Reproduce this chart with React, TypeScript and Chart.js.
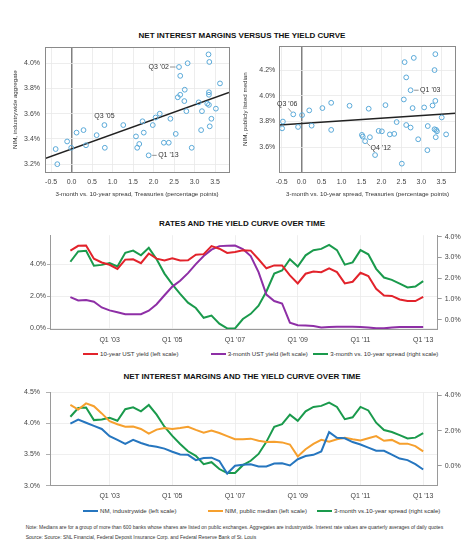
import React, { useEffect, useRef } from "react";
import { Chart, registerables } from "chart.js";

Chart.register(...registerables);

const FONT = "'Liberation Sans', Arial, Helvetica, sans-serif";

// ---------- Scatter data (spread in pct points, NIM in %) ----------
const industrySpread = [-0.39, -0.35, -0.11, -0.01, 0.12, 0.29, 0.35, 0.61, 0.8, 0.81, 1.26, 1.57, 1.6, 1.65, 1.73, 1.76, 1.88, 1.98, 2.05, 2.15, 2.25, 2.37, 2.41, 2.54, 2.59, 2.62, 2.65, 2.65, 2.75, 2.76, 2.8, 2.83, 2.93, 3.1, 3.16, 3.18, 3.31, 3.34, 3.35, 3.35, 3.35, 3.36, 3.37, 3.41, 3.52, 3.62];
const industryNim = [3.32, 3.2, 3.38, 3.33, 3.45, 3.47, 3.35, 3.43, 3.51, 3.33, 3.51, 3.42, 3.33, 3.36, 3.54, 3.45, 3.27, 3.51, 3.57, 3.6, 3.37, 3.37, 3.56, 3.44, 3.73, 3.97, 3.75, 3.9, 3.7, 3.79, 3.62, 4.0, 3.33, 3.69, 3.47, 3.62, 3.68, 4.07, 3.77, 3.75, 3.67, 4.01, 3.5, 3.56, 3.64, 3.84];
const industryTrend = { intercept: 3.32, slope: 0.117 };

const publicSpread = [-0.49, -0.47, -0.21, -0.09, 0.01, 0.19, 0.25, 0.52, 0.74, 0.74, 1.2, 1.51, 1.53, 1.59, 1.68, 1.71, 1.84, 1.93, 2.01, 2.1, 2.21, 2.32, 2.38, 2.51, 2.56, 2.58, 2.62, 2.62, 2.73, 2.73, 2.78, 2.81, 2.92, 3.07, 3.15, 3.16, 3.28, 3.33, 3.33, 3.35, 3.35, 3.36, 3.37, 3.39, 3.51, 3.62];
const publicNim = [3.747, 3.8, 3.856, 3.758, 3.85, 3.887, 3.768, 3.905, 3.946, 3.735, 3.923, 3.696, 3.683, 3.647, 3.9, 3.678, 3.539, 3.727, 3.724, 3.928, 3.7, 3.704, 3.796, 3.472, 3.972, 4.263, 3.773, 4.144, 3.753, 4.044, 3.905, 4.296, 3.662, 3.91, 3.577, 3.765, 3.925, 4.201, 3.74, 3.961, 4.325, 3.678, 3.735, 3.724, 3.832, 3.7];
const publicTrend = { intercept: 3.784, slope: 0.021 };

const spreadAxisTicks = [-0.5, 0, 0.5, 1, 1.5, 2, 2.5, 3, 3.5];
const industryNimTicks = [3.2, 3.4, 3.6, 3.8, 4.0];
const publicNimTicks = [3.6, 3.8, 4.0, 4.2];

const industryNotes = [
  { i: 25, text: "Q3 '02", kind: "left" },
  { i: 8, text: "Q3 '05", kind: "above" },
  { i: 16, text: "Q1 '13", kind: "right" },
];
const publicNotes = [
  { i: 2, text: "Q3 '06", kind: "upleft" },
  { i: 29, text: "Q1 '03", kind: "right" },
  { i: 13, text: "Q4 '12", kind: "downright" },
];

// ---------- Quarterly series, Q4 '01 .. Q1 '13 ----------
const tenYearYield = [4.84, 5.14, 5.16, 4.34, 4.1, 3.96, 3.7, 4.28, 4.3, 4.06, 4.66, 4.34, 4.22, 4.36, 4.22, 4.24, 4.58, 4.62, 5.12, 4.96, 4.7, 4.76, 4.86, 4.84, 4.3, 3.74, 3.92, 3.92, 3.3, 2.8, 3.4, 3.54, 3.5, 3.74, 3.5, 2.8, 2.9, 3.46, 3.26, 2.46, 2.04, 2.02, 1.8, 1.7, 1.7, 1.96];
const threeMonthYield = [1.94, 1.74, 1.76, 1.66, 1.3, 1.12, 1.0, 0.88, 0.88, 0.88, 1.1, 1.5, 2.06, 2.6, 2.96, 3.44, 4.0, 4.5, 4.9, 5.12, 5.14, 5.16, 4.94, 4.5, 3.5, 2.1, 1.7, 1.55, 0.35, 0.2, 0.18, 0.14, 0.06, 0.08, 0.1, 0.1, 0.1, 0.08, 0.06, 0.0, 0.0, 0.05, 0.08, 0.08, 0.08, 0.09];
const yieldSpread = [2.79, 3.29, 3.32, 2.6, 2.64, 2.73, 2.56, 3.22, 3.33, 3.1, 3.46, 2.91, 2.22, 1.7, 1.24, 0.82, 0.56, 0.09, 0.2, -0.19, -0.42, -0.42, 0.03, 0.28, 0.67, 1.36, 2.22, 2.37, 2.91, 2.56, 3.1, 3.35, 3.41, 3.6, 3.35, 2.65, 2.76, 3.35, 3.15, 2.45, 2.03, 1.92, 1.74, 1.55, 1.6, 1.86];
const nimIndustrywide = [3.995, 4.06, 4.01, 3.96, 3.91, 3.795, 3.735, 3.67, 3.735, 3.685, 3.645, 3.625, 3.595, 3.545, 3.5, 3.495, 3.41, 3.445, 3.45, 3.395, 3.195, 3.32, 3.335, 3.345, 3.31, 3.31, 3.355, 3.36, 3.325, 3.425, 3.475, 3.495, 3.55, 3.86, 3.77, 3.76, 3.7, 3.66, 3.61, 3.56, 3.56, 3.5, 3.435, 3.41, 3.345, 3.26];
const nimPublicMedian = [4.295, 4.22, 4.32, 4.275, 4.16, 4.035, 3.985, 3.945, 3.95, 3.91, 3.835, 3.9, 3.925, 3.91, 3.925, 3.945, 3.895, 3.85, 3.885, 3.845, 3.795, 3.745, 3.745, 3.755, 3.72, 3.7, 3.705, 3.695, 3.66, 3.47, 3.585, 3.67, 3.735, 3.705, 3.745, 3.77, 3.745, 3.725, 3.76, 3.795, 3.72, 3.735, 3.675, 3.675, 3.635, 3.55];

const QUARTERS: string[] = [];
for (let k = 0; k < tenYearYield.length; k++) {
  const q = ((3 + k) % 4) + 1;
  const yr = 2001 + Math.floor((3 + k) / 4);
  QUARTERS.push(`Q${q} '${String(yr % 100).padStart(2, "0")}`);
}
const timeTickLabels = ["Q1 '03", "Q1 '05", "Q1 '07", "Q1 '09", "Q1 '11", "Q1 '13"];
const rateTicks = [0, 2, 4];
const spreadTicksMid = [0, 1, 2, 3, 4];
const nimTicks = [3.0, 3.5, 4.0, 4.5];
const spreadTicksLow = [0, 2, 4];

const RED = "#e2232b";
const PURPLE = "#8e2fa6";
const GREEN = "#1a9a4c";
const BLUE = "#2676bf";
const ORANGE = "#f6a02e";
const DOT = "#5aa9d8";

const pct = (v: any) => Number(v).toFixed(1) + "%";

function scatterConfig(p: any) {
  const pts = p.xs.map((x: number, i: number) => ({ x, y: p.ys[i] }));
  const trend = [p.xMin, p.xMax].map((x: number) => ({ x, y: p.trend.intercept + p.trend.slope * x }));
  const notesPlugin = {
    id: "notes",
    afterDraw(chart: any) {
      const { ctx, chartArea } = chart;
      const xs = chart.scales.x;
      const ys = chart.scales.y;
      ctx.save();
      ctx.strokeStyle = "#8a8a8a";
      ctx.lineWidth = 1;
      ctx.strokeRect(Math.round(chartArea.left) + 0.5, Math.round(chartArea.top) + 0.5, Math.round(chartArea.right - chartArea.left), Math.round(chartArea.bottom - chartArea.top));
      ctx.font = `7px ${FONT}`;
      ctx.fillStyle = "#333";
      ctx.strokeStyle = "#777";
      ctx.lineWidth = 0.8;
      ctx.textBaseline = "middle";
      for (const n of p.notes) {
        const px = xs.getPixelForValue(p.xs[n.i]);
        const py = ys.getPixelForValue(p.ys[n.i]);
        ctx.beginPath();
        if (n.kind === "left") {
          ctx.moveTo(px - 9, py); ctx.lineTo(px - 3.5, py); ctx.stroke();
          ctx.textAlign = "right"; ctx.fillText(n.text, px - 10, py);
        } else if (n.kind === "right") {
          ctx.moveTo(px + 3.5, py); ctx.lineTo(px + 8, py); ctx.stroke();
          ctx.textAlign = "left"; ctx.fillText(n.text, px + 9.5, py);
        } else if (n.kind === "above") {
          ctx.textAlign = "center"; ctx.fillText(n.text, px, py - 8.5);
        } else if (n.kind === "upleft") {
          ctx.moveTo(px - 5, py - 6); ctx.lineTo(px - 2, py - 2.5); ctx.stroke();
          ctx.textAlign = "center"; ctx.fillText(n.text, px - 6, py - 10);
        } else if (n.kind === "downright") {
          ctx.moveTo(px + 2, py + 2); ctx.lineTo(px + 5, py + 5); ctx.stroke();
          ctx.textAlign = "left"; ctx.fillText(n.text, px + 5.5, py + 7);
        }
      }
      ctx.restore();
    },
  };
  return {
    data: {
      datasets: [
        { type: "scatter", data: pts, pointRadius: 2.4, pointBorderWidth: 1, borderColor: DOT, backgroundColor: "rgba(0,0,0,0)", pointBackgroundColor: "rgba(0,0,0,0)" },
        { type: "line", data: trend, borderColor: "#222", borderWidth: 1.5, pointRadius: 0 },
      ],
    },
    plugins: [notesPlugin],
    options: {
      animation: false,
      responsive: false,
      layout: { padding: { top: p.padTop, right: p.padRight, left: 0, bottom: 0 } },
      plugins: { legend: { display: false }, tooltip: { enabled: false } },
      scales: {
        x: {
          type: "linear",
          min: p.xMin,
          max: p.xMax,
          afterBuildTicks: (s: any) => { s.ticks = spreadAxisTicks.map((value) => ({ value })); },
          afterFit: (s: any) => { s.height = 38; },
          grid: {
            drawTicks: false,
            color: (c: any) => (c.tick && c.tick.value === 0 ? "#808080" : "#e8e8e8"),
            lineWidth: (c: any) => (c.tick && c.tick.value === 0 ? 1.5 : 0.8),
          },
          border: { display: false },
          ticks: { font: { size: 7, family: FONT }, color: "#444", padding: 6, maxRotation: 0, autoSkip: false, callback: (v: any) => Number(v).toFixed(1) },
          title: { display: true, text: "3-month vs. 10-year spread, Treasuries (percentage points)", font: { size: 6.2, family: FONT }, color: "#333", padding: { top: 0, bottom: 12 } },
        },
        y: {
          type: "linear",
          min: p.yMin,
          max: p.yMax,
          afterBuildTicks: (s: any) => { s.ticks = p.yTicks.map((value: number) => ({ value })); },
          afterFit: (s: any) => { s.width = p.yWidth; },
          grid: { drawTicks: false, color: "#e8e8e8", lineWidth: 0.8 },
          border: { display: false },
          ticks: { font: { size: 7, family: FONT }, color: "#444", padding: p.tickPad, callback: pct },
          title: { display: true, text: p.yTitle, font: { size: 6.2, family: FONT }, color: "#333", padding: { top: p.titlePad, bottom: 0 } },
        },
      },
    },
  };
}

function timeConfig(p: any) {
  const tickIdx = timeTickLabels.map((l) => QUARTERS.indexOf(l));
  return {
    type: "line",
    data: {
      datasets: p.series.map((s: any) => ({
        label: s.label,
        data: s.values.map((v: number, i: number) => ({ x: i, y: v })),
        borderColor: s.color,
        backgroundColor: s.color,
        borderWidth: 2,
        pointRadius: 0,
        tension: 0,
        fill: false,
        yAxisID: s.axis,
      })),
    },
    options: {
      animation: false,
      responsive: false,
      layout: { padding: { top: p.padTop, left: 0, right: 0, bottom: 0 } },
      plugins: { legend: { display: false }, tooltip: { enabled: false } },
      scales: {
        x: {
          type: "linear",
          min: -2.6,
          max: 46.85,
          afterBuildTicks: (s: any) => { s.ticks = tickIdx.map((value) => ({ value })); },
          afterFit: (s: any) => { s.height = p.xHeight; },
          grid: { drawTicks: false, color: "#ebebeb", lineWidth: 0.8 },
          border: { color: "#9a9a9a", width: 1 },
          ticks: { font: { size: 7, family: FONT }, color: "#444", padding: p.xPad, maxRotation: 0, autoSkip: false, callback: (v: any) => QUARTERS[Math.round(v)] },
        },
        y: {
          type: "linear",
          position: "left",
          min: p.leftMin,
          max: p.leftMax,
          afterBuildTicks: (s: any) => { s.ticks = p.leftTicks.map((value: number) => ({ value })); },
          afterFit: (s: any) => { s.width = 50; },
          grid: { drawTicks: true, tickLength: p.leftTickLen, tickColor: "#9a9a9a", color: "#ebebeb", lineWidth: 0.8 },
          border: { color: "#9a9a9a", width: 1 },
          ticks: { font: { size: 7, family: FONT }, color: "#444", padding: p.leftPad, callback: pct },
        },
        y1: {
          type: "linear",
          position: "right",
          min: p.rightMin,
          max: p.rightMax,
          afterBuildTicks: (s: any) => { s.ticks = p.rightTicks.map((value: number) => ({ value })); },
          afterFit: (s: any) => { s.width = 36.3; },
          grid: { drawOnChartArea: false, drawTicks: true, tickLength: 4, color: "#9a9a9a", tickColor: "#9a9a9a" },
          border: { color: "#9a9a9a", width: 1 },
          ticks: { font: { size: 7, family: FONT }, color: "#444", padding: 3, callback: pct },
        },
      },
    },
  };
}

function ChartBox({ left, top, width, height, config }: any) {
  const ref = useRef<HTMLCanvasElement | null>(null);
  useEffect(() => {
    const chart = new Chart(ref.current as HTMLCanvasElement, config);
    return () => chart.destroy();
  }, []);
  return (
    <div style={{ position: "absolute", left, top, width, height }}>
      <canvas ref={ref} width={width} height={height} style={{ display: "block", width, height }} />
    </div>
  );
}

function Title({ text, cy }: any) {
  return (
    <div style={{ position: "absolute", left: 0, width: 484, top: cy - 5, height: 10, lineHeight: "10px", textAlign: "center", fontWeight: "bold", fontSize: 8, color: "#111", fontFamily: FONT }}>
      {text}
    </div>
  );
}

function LegendItem({ x, cy, color, text }: any) {
  return (
    <>
      <div style={{ position: "absolute", left: x, top: cy - 1, width: 15, height: 2, background: color }} />
      <div style={{ position: "absolute", left: x + 17, top: cy - 4, height: 8, lineHeight: "8px", fontSize: 6.1, color: "#333", fontFamily: FONT, whiteSpace: "nowrap" }}>{text}</div>
    </>
  );
}

export default function App() {
  const industryCfg = scatterConfig({
    xs: industrySpread, ys: industryNim, trend: industryTrend, notes: industryNotes,
    xMin: -0.65, xMax: 3.84, yMin: 3.138, yMax: 4.127, yTicks: industryNimTicks,
    yTitle: "NIM, industrywide aggregate", yWidth: 45, padTop: 7, padRight: 8, tickPad: 5, titlePad: 11.4,
  });
  const publicCfg = scatterConfig({
    xs: publicSpread, ys: publicNim, trend: publicTrend, notes: publicNotes,
    xMin: -0.56, xMax: 3.86, yMin: 3.407, yMax: 4.387, yTicks: publicNimTicks,
    yTitle: "NIM, publicly listed median", yWidth: 42.3, padTop: 7, padRight: 18.3, tickPad: 4, titlePad: 4.4,
  });
  const ratesCfg = timeConfig({
    padTop: 3.7, xHeight: 19, xPad: 7,
    leftMin: -0.04, leftMax: 5.8, leftTicks: rateTicks, leftTickLen: 3, leftPad: 1,
    rightMin: -0.45, rightMax: 4.07, rightTicks: spreadTicksMid,
    series: [
      { label: "10-year UST yield (left scale)", values: tenYearYield, color: RED, axis: "y" },
      { label: "3-month UST yield (left scale)", values: threeMonthYield, color: PURPLE, axis: "y" },
      { label: "3-month vs. 10-year spread (right scale)", values: yieldSpread, color: GREEN, axis: "y1" },
    ],
  });
  const nimCfg = timeConfig({
    padTop: 3.7, xHeight: 16.3, xPad: 6,
    leftMin: 3.0, leftMax: 4.5, leftTicks: nimTicks, leftTickLen: 4, leftPad: 6,
    rightMin: -1.14, rightMax: 4.19, rightTicks: spreadTicksLow,
    series: [
      { label: "NM, industrywide (left scale)", values: nimIndustrywide, color: BLUE, axis: "y" },
      { label: "NIM, public median (left scale)", values: nimPublicMedian, color: ORANGE, axis: "y" },
      { label: "3-month vs.10-year spread (right scale)", values: yieldSpread, color: GREEN, axis: "y1" },
    ],
  });

  return (
    <div style={{ position: "absolute", left: 0, top: 0, width: 474, height: 557, background: "#fff", fontFamily: FONT, overflow: "hidden" }}>
      <Title text="NET INTEREST MARGINS VERSUS THE YIELD CURVE" cy={35.7} />
      <ChartBox left={0} top={38} width={237} height={172} config={industryCfg} />
      <ChartBox left={237} top={38} width={237} height={172} config={publicCfg} />

      <Title text="RATES AND THE YIELD CURVE OVER TIME" cy={224} />
      <ChartBox left={0} top={228} width={474} height={120} config={ratesCfg} />
      <LegendItem x={83} cy={354.3} color={RED} text="10-year UST yield (left scale)" />
      <LegendItem x={210.7} cy={354.3} color={PURPLE} text="3-month UST yield (left scale)" />
      <LegendItem x={313.3} cy={354.3} color={GREEN} text="3-month vs. 10-year spread (right scale)" />

      <Title text="NET INTEREST MARGINS AND THE YIELD CURVE OVER TIME" cy={376.7} />
      <ChartBox left={0} top={382} width={474} height={120} config={nimCfg} />
      <LegendItem x={83} cy={510.7} color={BLUE} text="NM, industrywide (left scale)" />
      <LegendItem x={208} cy={510.7} color={ORANGE} text="NIM, public median (left scale)" />
      <LegendItem x={317} cy={510.7} color={GREEN} text="3-month vs.10-year spread (right scale)" />

      <div style={{ position: "absolute", left: 25.7, top: 523.7, lineHeight: "6px", fontSize: 5, color: "#333", whiteSpace: "nowrap" }}>
        Note: Medians are for a group of more than 600 banks whose shares are listed on public exchanges. Aggregates are industrywide. Interest rate values are quarterly averages of daily quotes
      </div>
      <div style={{ position: "absolute", left: 25.7, top: 533.7, lineHeight: "6px", fontSize: 5, color: "#333", whiteSpace: "nowrap" }}>
        Source: Source: SNL Financial, Federal Deposit Insurance Corp. and Federal Reserve Bank of St. Louis
      </div>
    </div>
  );
}
